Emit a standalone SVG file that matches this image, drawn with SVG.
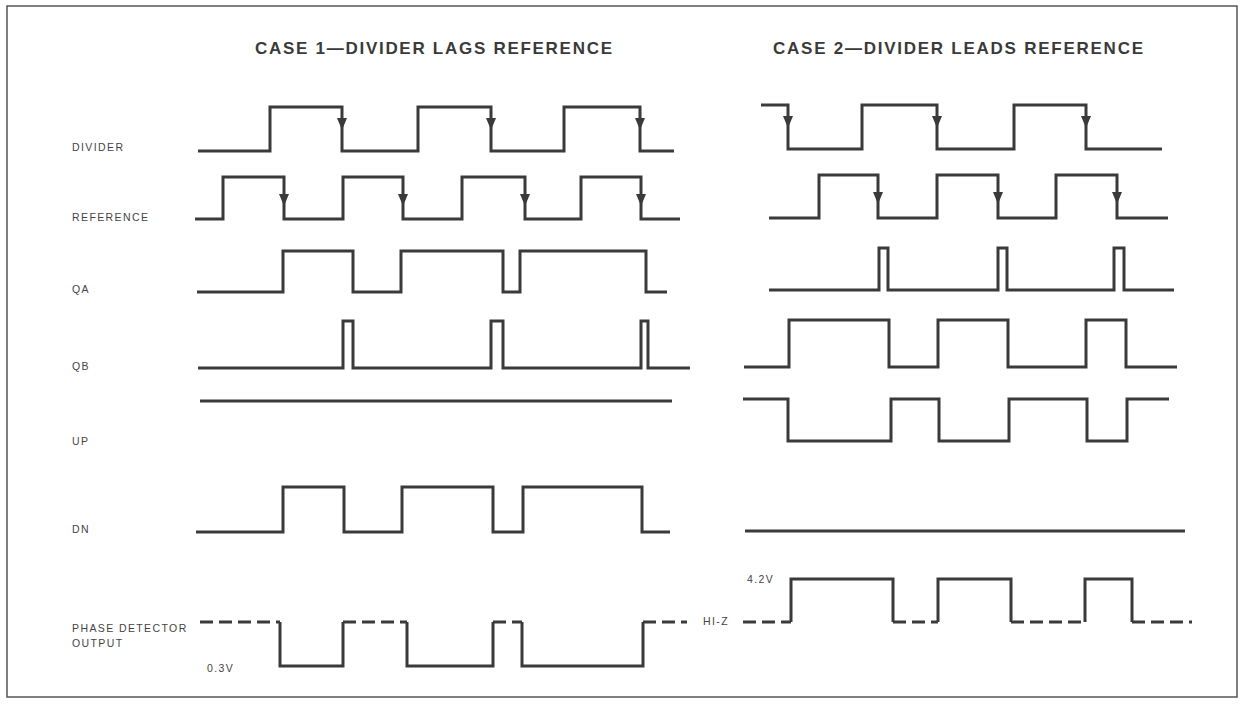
<svg xmlns="http://www.w3.org/2000/svg" xmlns:xlink="http://www.w3.org/1999/xlink" width="1244" height="704" viewBox="0 0 1244 704">
<style>
.w{fill:none;stroke:#3a3a3a;stroke-width:3;stroke-linejoin:miter;stroke-linecap:butt}
.d{fill:none;stroke:#3a3a3a;stroke-width:3;stroke-dasharray:13 6}
.lbl{font-family:"Liberation Sans",Arial,sans-serif;font-size:10.5px;fill:#444;letter-spacing:1.4px}
.ttl{font-family:"Liberation Sans",Arial,sans-serif;font-size:17px;font-weight:bold;fill:#3a3a3a}
.arr{fill:#3a3a3a}
</style>
<defs>
<path id="a" d="M-5,-6 L5,-6 L0,6 Z"/>
</defs>
<rect x="0" y="0" width="1244" height="704" fill="#ffffff"/>
<rect x="7" y="6" width="1230" height="691" fill="none" stroke="#555" stroke-width="1.5"/>

<g id="titles">
<text class="ttl" x="255" y="54" textLength="357" lengthAdjust="spacing">CASE 1—DIVIDER LAGS REFERENCE</text>
<text class="ttl" x="773" y="54" textLength="370" lengthAdjust="spacing">CASE 2—DIVIDER LEADS REFERENCE</text>
</g>

<g id="labels">
<text class="lbl" x="72" y="151">DIVIDER</text>
<text class="lbl" x="72" y="221">REFERENCE</text>
<text class="lbl" x="72" y="293">QA</text>
<text class="lbl" x="72" y="370">QB</text>
<text class="lbl" x="72" y="445">UP</text>
<text class="lbl" x="72" y="533">DN</text>
<text class="lbl" x="72" y="632">PHASE DETECTOR</text>
<text class="lbl" x="72" y="647">OUTPUT</text>
<text class="lbl" x="207" y="672">0.3V</text>
<text class="lbl" x="747" y="583">4.2V</text>
<text class="lbl" x="703" y="625">HI-Z</text>
</g>

<g id="case1-divider">
<path class="w" d="M198,151 H270 V107 H342 V151 H418 V107 H491 V151 H564 V107 H640 V151 H674"/>
</g>
<g id="case1-reference">
<path class="w" d="M195,219 H223 V177 H284 V219 H343 V177 H403 V219 H462 V177 H525 V219 H581 V177 H641 V219 H680"/>
</g>
<g id="case1-qa">
<path class="w" d="M197,292 H283 V251 H353 V292 H401 V251 H503 V292 H520 V251 H646 V292 H667"/>
</g>
<g id="case1-qb">
<path class="w" d="M198,368 H343 V321 H353 V368 H491 V321 H503 V368 H641 V321 H648 V368 H690"/>
</g>
<g id="case1-up">
<path class="w" d="M200,401 H672"/>
</g>
<g id="case1-dn">
<path class="w" d="M196,532 H283 V487 H344 V532 H402 V487 H493 V532 H523 V487 H642 V532 H670"/>
</g>
<g id="case1-output">
<path class="d" d="M200,622 H280 M343,622 H407 M493,622 H522 M643,622 H687"/>
<path class="w" d="M280,622 V666 H343 V622 M407,622 V666 H493 V622 M522,622 V666 H643 V622"/>
</g>

<g id="case2-divider">
<path class="w" d="M761,105 H788 V149 H862 V105 H937 V149 H1014 V105 H1086 V149 H1162"/>
</g>
<g id="case2-reference">
<path class="w" d="M769,218 H819 V175 H878 V218 H937 V175 H998 V218 H1056 V175 H1117 V218 H1168"/>
</g>
<g id="case2-qa">
<path class="w" d="M769,290 H879 V248 H888 V290 H998 V248 H1007 V290 H1114 V248 H1124 V290 H1174"/>
</g>
<g id="case2-qb">
<path class="w" d="M744,367 H789 V320 H889 V367 H938 V320 H1008 V367 H1086 V320 H1126 V367 H1177"/>
</g>
<g id="case2-up">
<path class="w" d="M743,399 H788 V441 H891 V399 H939 V441 H1009 V399 H1087 V441 H1127 V399 H1169"/>
</g>
<g id="case2-dn">
<path class="w" d="M745,531 H1185"/>
</g>
<g id="case2-output">
<path class="d" d="M743,622 H791 M893,622 H938 M1011,622 H1085 M1132,622 H1192"/>
<path class="w" d="M791,622 V579 H893 V622 M938,622 V579 H1011 V622 M1085,622 V579 H1132 V622"/>
</g>

<g id="connectors">
<use xlink:href="#a" class="arr" x="342" y="124"/>
<use xlink:href="#a" class="arr" x="491" y="124"/>
<use xlink:href="#a" class="arr" x="640" y="124"/>
<use xlink:href="#a" class="arr" x="284" y="200"/>
<use xlink:href="#a" class="arr" x="403" y="200"/>
<use xlink:href="#a" class="arr" x="525" y="200"/>
<use xlink:href="#a" class="arr" x="641" y="200"/>
<use xlink:href="#a" class="arr" x="788" y="122"/>
<use xlink:href="#a" class="arr" x="937" y="122"/>
<use xlink:href="#a" class="arr" x="1086" y="122"/>
<use xlink:href="#a" class="arr" x="878" y="198"/>
<use xlink:href="#a" class="arr" x="998" y="198"/>
<use xlink:href="#a" class="arr" x="1117" y="198"/>
</g>
</svg>
